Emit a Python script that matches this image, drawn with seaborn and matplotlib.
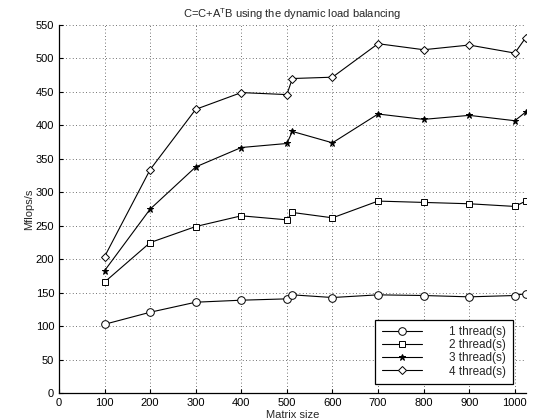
import numpy as np
import pandas as pd
import matplotlib
matplotlib.use("Agg")
import matplotlib.pyplot as plt
import seaborn as sns

sizes = [100, 200, 300, 400, 500, 512, 600, 700, 800, 900, 1000, 1024]
t1 = [103, 121, 136, 139, 141, 147, 143, 147, 146, 144, 146, 149]
t2 = [166, 225, 249, 265, 259, 270, 262, 287, 285, 283, 279, 287]
t3 = [183, 275, 338, 367, 373, 391, 374, 417, 409, 415, 407, 420]
t4 = [204, 334, 424, 449, 446, 470, 472, 522, 513, 520, 508, 531]
labels = ["1 thread(s)", "2 thread(s)", "3 thread(s)", "4 thread(s)"]
xticks = [0, 100, 200, 300, 400, 500, 600, 700, 800, 900, 1000]
yticks = list(range(0, 551, 50))

sns.set_style("ticks")
plt.rcParams['font.family'] = ['Liberation Sans', 'DejaVu Sans']
plt.rcParams['font.size'] = 8

fig = plt.figure(figsize=(5.59, 4.2), dpi=100)
ax = fig.add_axes([0.1055, 0.0636, 0.835, 0.877])

markers = ['o', 's', '*', 'D']
msizes = [5.5, 5, 5, 4.5]
mfcs = ['white', 'white', 'black', 'white']
for ys, lab, m, ms, fc in zip([t1, t2, t3, t4], labels, markers, msizes, mfcs):
    sns.lineplot(x=sizes, y=ys, ax=ax, color='black', lw=0.8, marker=m,
                 markersize=ms, markerfacecolor=fc,
                 markeredgecolor='black', markeredgewidth=0.7, label=lab)

ax.set_xlim(0, 1024)
ax.set_ylim(0, 550)
ax.set_xticks(xticks)
ax.set_yticks(yticks)
ax.grid(True, linestyle=(0, (1, 3)), color='#444444', linewidth=0.6)
ax.tick_params(direction='in', length=3, width=0.8, labelsize=8, colors='black')
for s in ['top', 'right']:
    ax.spines[s].set_visible(False)
for s in ['left', 'bottom']:
    ax.spines[s].set_linewidth(0.9)
    ax.spines[s].set_color('black')

ax.set_title(r"C=C+A$^{\mathregular{T}}$B using the dynamic load balancing", fontsize=8, pad=5)
ax.set_xlabel("Matrix size", fontsize=8, labelpad=1)
ax.set_ylabel("Mflops/s", fontsize=8, labelpad=1)

leg = ax.legend(loc='lower right', bbox_to_anchor=(0.972, 0.025), borderaxespad=0,
                frameon=True, fancybox=False, edgecolor='black', framealpha=1,
                fontsize=8.5, handlelength=3.4, handletextpad=2.3,
                labelspacing=0.1, borderpad=0.55)
leg.get_frame().set_linewidth(0.9)

fig.savefig("out.png", dpi=100)
